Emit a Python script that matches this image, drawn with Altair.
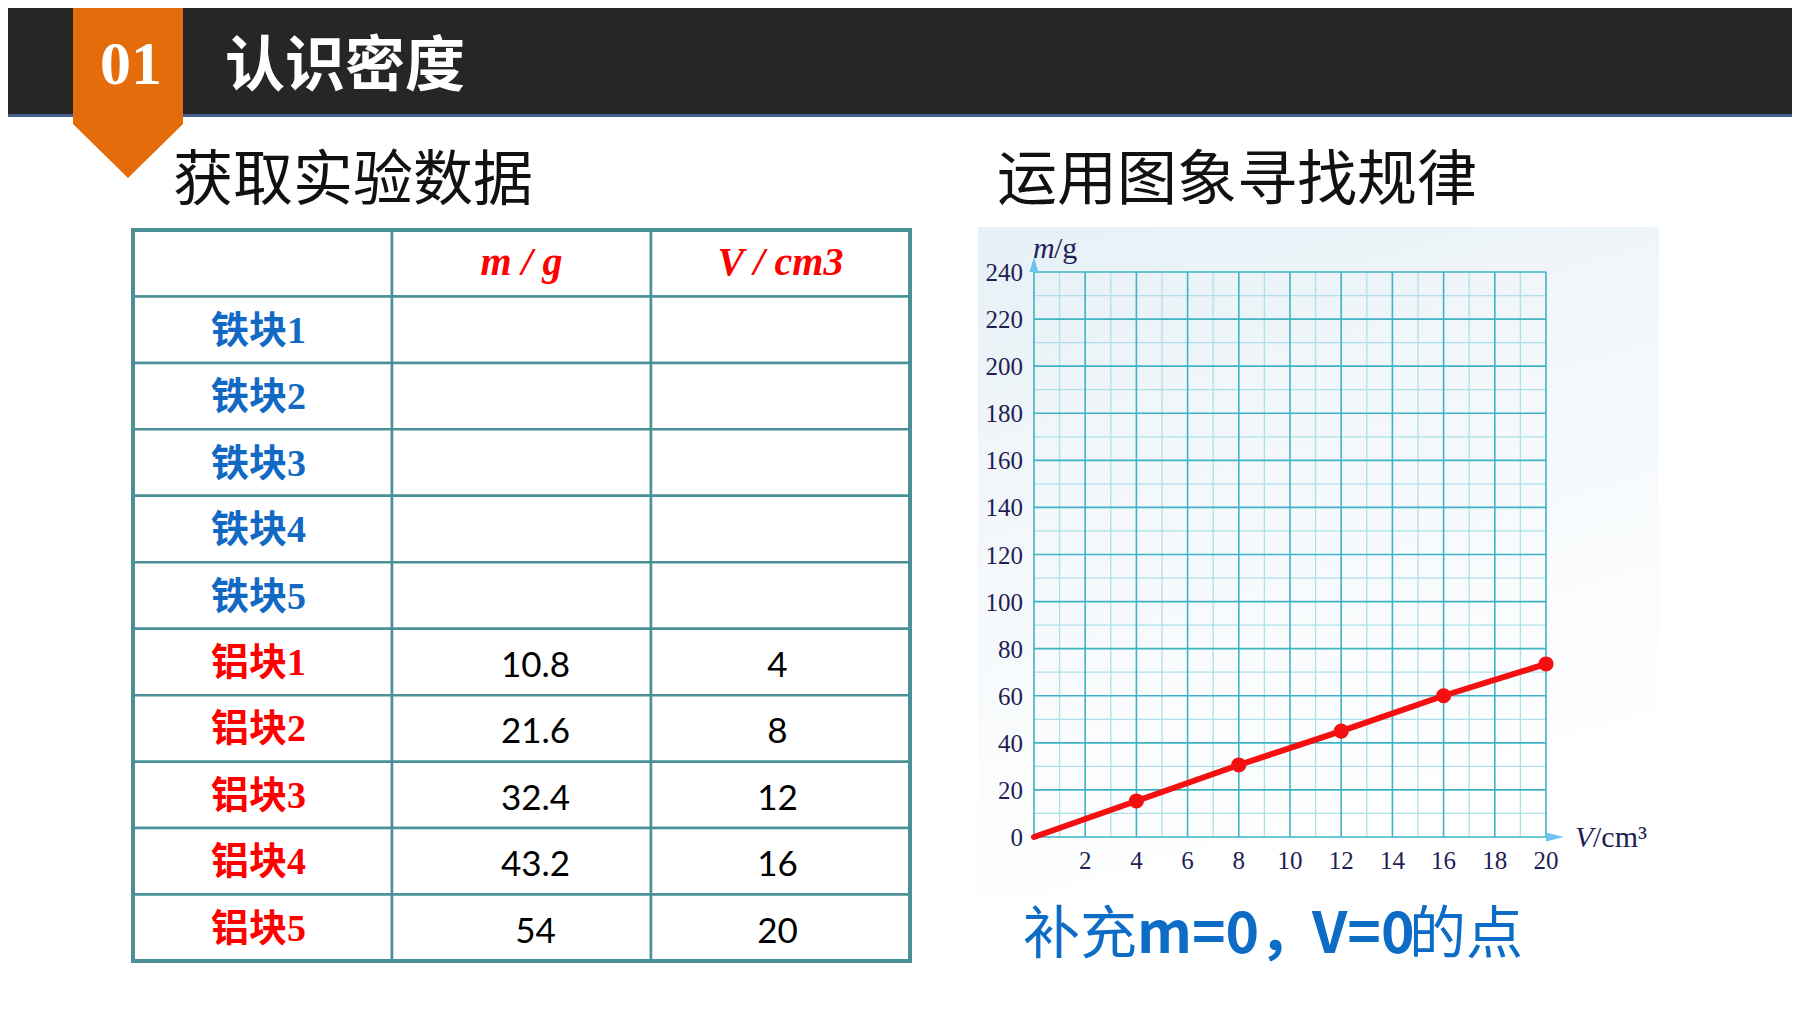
import altair as alt
import pandas as pd

# ---------------- data ----------------
table_columns = ["name", "m", "V"]
column_headers = ["m / g", "V / cm3"]
iron_blocks = ["铁块1", "铁块2", "铁块3", "铁块4", "铁块5"]
aluminium_blocks = ["铝块1", "铝块2", "铝块3", "铝块4", "铝块5"]
aluminium_mass = ["10.8", "21.6", "32.4", "43.2", "54"]
aluminium_volume = ["4", "8", "12", "16", "20"]

graph_volume = [0, 4, 8, 12, 16, 20]
graph_mass = [0, 15.3, 30.6, 45.0, 60.0, 73.5]

x_ticks = [2, 4, 6, 8, 10, 12, 14, 16, 18, 20]
y_ticks = [0, 20, 40, 60, 80, 100, 120, 140, 160, 180, 200, 220, 240]

# ---------------- layout / style ----------------
W, H = 1784, 996
M = 8  # page margin


def p(v):
    return v - M


DARK = "#262626"
BORDER = "#41618c"
ORANGE = "#e46c0a"
TEAL = "#4a9096"
RED = "#ff0000"
LINE_RED = "#f41010"
BLUE = "#1269c4"
NAVY = "#1f1f55"
GRID_MAJOR = "#3fb3c6"
GRID_MINOR = "#ade0e8"
ARROW = "#6cc4ee"
CJK = '"Noto Sans CJK SC"'
SERIF_CJK = 'Liberation Serif, "Noto Sans CJK SC"'

one = pd.DataFrame({"k": [0]})

# ---------------- header decorations ----------------
bar = alt.Chart(one).mark_rect(fill=DARK).encode(
    x=alt.value(0), x2=alt.value(W), y=alt.value(0), y2=alt.value(p(115))
)
bar_edge = alt.Chart(one).mark_rule(color=BORDER, strokeWidth=3).encode(
    x=alt.value(0), x2=alt.value(W), y=alt.value(p(115.5))
)
pennant = alt.Chart(one).mark_point(
    shape="M-5.5,-6.5L5.5,-6.5L5.5,5.6L0,11L-5.5,5.6Z",
    size=400, filled=True, fill=ORANGE, strokeWidth=0, opacity=1,
).encode(x=alt.value(p(128)), y=alt.value(p(68)))
num = alt.Chart(one).mark_text(
    text="01", font="Liberation Serif", fontWeight="bold", fontSize=62,
    color="white", align="center", baseline="alphabetic",
).encode(x=alt.value(p(131)), y=alt.value(p(84)))
title = alt.Chart(one).mark_text(
    text="认识密度", font=CJK, fontWeight="bold", fontSize=60,
    color="white", align="left", baseline="middle",
).encode(x=alt.value(p(225)), y=alt.value(p(68)))
sub_left = alt.Chart(one).mark_text(
    text="获取实验数据", font=CJK, fontSize=60, color="#111111",
    align="left", baseline="middle",
).encode(x=alt.value(p(173)), y=alt.value(p(182)))
sub_right = alt.Chart(one).mark_text(
    text="运用图象寻找规律", font=CJK, fontSize=60, color="#111111",
    align="left", baseline="middle",
).encode(x=alt.value(p(997)), y=alt.value(p(182)))

# ---------------- table ----------------
row_order = ["hdr"] + iron_blocks + aluminium_blocks
tx = alt.Scale(type="band", domain=table_columns, range=[p(133), p(910)],
               paddingInner=0, paddingOuter=0)
ty = alt.Scale(type="band", domain=row_order, range=[p(230), p(961)],
               paddingInner=0, paddingOuter=0)

cells = pd.DataFrame([{"col": c, "row": r} for r in row_order for c in table_columns])
hdr_df = pd.DataFrame({"col": table_columns[1:], "row": "hdr", "text": column_headers})
iron_df = pd.DataFrame({"col": "name", "row": iron_blocks, "text": iron_blocks})
alu_df = pd.DataFrame({"col": "name", "row": aluminium_blocks, "text": aluminium_blocks})
mass_df = pd.DataFrame({"col": "m", "row": aluminium_blocks, "text": aluminium_mass})
vol_df = pd.DataFrame({"col": "V", "row": aluminium_blocks, "text": aluminium_volume})


def tenc(ch):
    return ch.encode(
        x=alt.X("col:N", scale=tx, axis=None),
        y=alt.Y("row:N", scale=ty, axis=None),
    )


cell_layer = tenc(alt.Chart(cells).mark_rect(fill="white", stroke=TEAL, strokeWidth=2.5))
hdr_layer = tenc(alt.Chart(hdr_df).mark_text(
    font="Liberation Serif", fontStyle="italic", fontWeight="bold", fontSize=40,
    color=RED, baseline="middle")).encode(text="text:N")
iron_layer = tenc(alt.Chart(iron_df).mark_text(
    font=SERIF_CJK, fontWeight="bold", fontSize=38, color=BLUE,
    baseline="middle", dy=2, xOffset=-4)).encode(text="text:N")
alu_layer = tenc(alt.Chart(alu_df).mark_text(
    font=SERIF_CJK, fontWeight="bold", fontSize=38, color=RED,
    baseline="middle", dy=2, xOffset=-4)).encode(text="text:N")
mass_layer = tenc(alt.Chart(mass_df).mark_text(
    font="Lato", fontSize=35, color="black", baseline="middle", xOffset=14, dy=4)).encode(text="text:N")
vol_layer = tenc(alt.Chart(vol_df).mark_text(
    font="Lato", fontSize=35, color="black", baseline="middle", xOffset=-3, dy=4)).encode(text="text:N")

table = alt.layer(cell_layer, hdr_layer, iron_layer, alu_layer, mass_layer, vol_layer)

table_border = alt.Chart(one).mark_rect(
    fillOpacity=0, stroke=TEAL, strokeWidth=4
).encode(x=alt.value(p(133)), x2=alt.value(p(910)), y=alt.value(p(230)), y2=alt.value(p(961)))

# ---------------- graph ----------------
panel = alt.Chart(one).mark_rect(
    fill={"gradient": "linear", "x1": 0, "y1": 0, "x2": 0.3, "y2": 1,
          "stops": [{"offset": 0, "color": "#e6f0f6"},
                    {"offset": 0.45, "color": "#f4f8fb"},
                    {"offset": 1, "color": "#ffffff"}]}
).encode(x=alt.value(p(978)), x2=alt.value(p(1659)), y=alt.value(p(227)), y2=alt.value(p(900)))

xs = alt.Scale(domain=[0, 20], range=[p(1034), p(1546)], nice=False, zero=False)
ys = alt.Scale(domain=[0, 240], range=[p(837), p(272)], nice=False, zero=False)


def penc(ch, xf="V:Q", yf="m:Q"):
    return ch.encode(x=alt.X(xf, scale=xs, axis=None), y=alt.Y(yf, scale=ys, axis=None))


vgrid = pd.DataFrame({"V": list(range(0, 21))})
vgrid["lo"] = 0
vgrid["hi"] = 240
hgrid = pd.DataFrame({"m": list(range(0, 241, 10))})
hgrid["lo"] = 0
hgrid["hi"] = 20

v_minor = penc(alt.Chart(vgrid[vgrid.V % 2 == 1]).mark_rule(color=GRID_MINOR, strokeWidth=1.3),
               "V:Q", "lo:Q").encode(y2="hi:Q")
h_minor = penc(alt.Chart(hgrid[hgrid.m % 20 == 10]).mark_rule(color=GRID_MINOR, strokeWidth=1.3),
               "lo:Q", "m:Q").encode(x2="hi:Q")
v_major = penc(alt.Chart(vgrid[vgrid.V % 2 == 0]).mark_rule(color=GRID_MAJOR, strokeWidth=1.6),
               "V:Q", "lo:Q").encode(y2="hi:Q")
h_major = penc(alt.Chart(hgrid[hgrid.m % 20 == 0]).mark_rule(color=GRID_MAJOR, strokeWidth=1.6),
               "lo:Q", "m:Q").encode(x2="hi:Q")

# tick labels placed through the plot scales
xlab_df = pd.DataFrame({"V": x_ticks, "m": [0] * len(x_ticks)})
xlab_df["t"] = xlab_df["V"].astype(str)
ylab_df = pd.DataFrame({"V": [0] * len(y_ticks), "m": y_ticks})
ylab_df["t"] = ylab_df["m"].astype(str)

x_labels = penc(alt.Chart(xlab_df).mark_text(
    font="Liberation Serif", fontSize=25, color=NAVY, align="center",
    baseline="middle", dy=24)).encode(text="t:N")
y_labels = penc(alt.Chart(ylab_df).mark_text(
    font="Liberation Serif", fontSize=25, color=NAVY, align="right",
    baseline="middle", dx=-11, dy=1)).encode(text="t:N")

graph = pd.DataFrame({"V": graph_volume, "m": graph_mass})
line = penc(alt.Chart(graph).mark_line(color=LINE_RED, strokeWidth=6, strokeCap="round"))
dots = penc(alt.Chart(graph[graph.V > 0]).mark_circle(color=LINE_RED, size=230, opacity=1))

arrow_up = penc(alt.Chart(pd.DataFrame({"V": [0], "m": [240]})).mark_point(
    shape="M-0.45,0L0.45,0L0,-1.5Z", size=400, filled=True, fill=ARROW, strokeWidth=0, opacity=1))
arrow_right = penc(alt.Chart(pd.DataFrame({"V": [20], "m": [0]})).mark_point(
    shape="M0,-0.45L0,0.45L1.8,0Z", size=400, filled=True, fill=ARROW, strokeWidth=0, opacity=1))

plot = alt.layer(v_minor, h_minor, v_major, h_major, x_labels, y_labels,
                 line, dots, arrow_up, arrow_right)

# axis titles
m_it = alt.Chart(one).mark_text(text="m", font="Liberation Serif", fontStyle="italic",
                                fontSize=30, color=NAVY, align="left", baseline="alphabetic"
                                ).encode(x=alt.value(p(1033)), y=alt.value(p(258)))
m_unit = alt.Chart(one).mark_text(text="/g", font="Liberation Serif", fontSize=30, color=NAVY,
                                  align="left", baseline="alphabetic"
                                  ).encode(x=alt.value(p(1054)), y=alt.value(p(258)))
v_it = alt.Chart(one).mark_text(text="V", font="Liberation Serif", fontStyle="italic",
                                fontSize=30, color=NAVY, align="left", baseline="alphabetic"
                                ).encode(x=alt.value(p(1575)), y=alt.value(p(847)))
v_unit = alt.Chart(one).mark_text(text="/cm³", font="Liberation Serif", fontSize=30, color=NAVY,
                                  align="left", baseline="alphabetic"
                                  ).encode(x=alt.value(p(1593)), y=alt.value(p(847)))

# bottom note
NOTE_BLUE = "#0d6cc6"
note_parts = [
    ("补充", "normal", 1023),
    ("m=0，", "bold", 1137),
    ("V=0", "bold", 1312),
    ("的点", "normal", 1409),
]
notes = [
    alt.Chart(one).mark_text(text=t, font=CJK, fontWeight=w, fontSize=57, color=NOTE_BLUE,
                             align="left", baseline="alphabetic"
                             ).encode(x=alt.value(p(xx)), y=alt.value(p(953)))
    for t, w, xx in note_parts
]

chart = alt.layer(
    bar, bar_edge, pennant, num, title, sub_left, sub_right,
    panel, table, table_border, plot, m_it, m_unit, v_it, v_unit, *notes,
).resolve_scale(x="independent", y="independent").properties(
    width=W, height=H, padding=0, background="white",
    autosize=alt.AutoSizeParams(type="none"),
).configure_view(strokeWidth=0)

chart.save("out.html", embed_options={"renderer": "svg", "actions": False})
